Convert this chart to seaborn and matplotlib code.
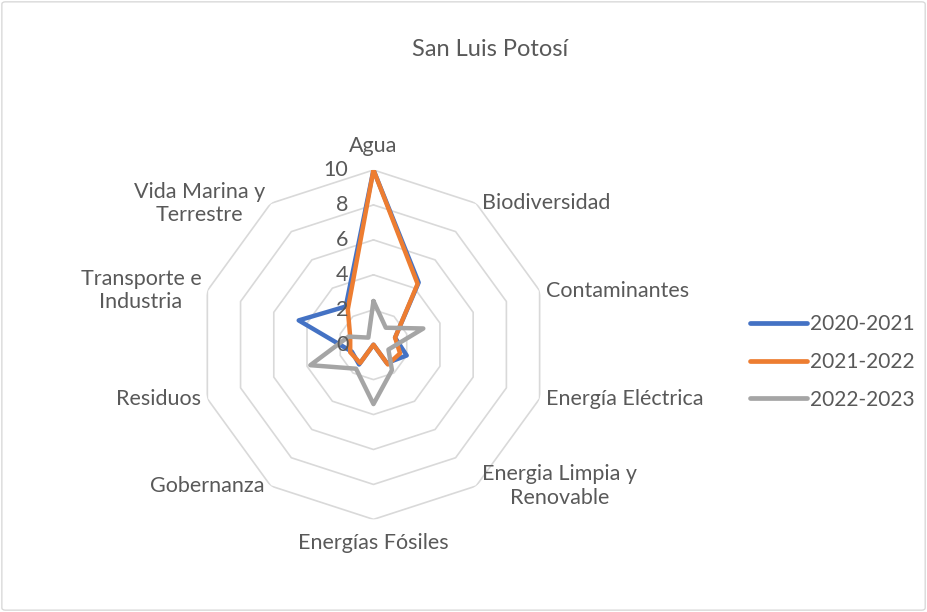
import numpy as np
import pandas as pd
import matplotlib
matplotlib.use("Agg")
import matplotlib.pyplot as plt
import seaborn as sns
from matplotlib.lines import Line2D
from matplotlib.patches import FancyBboxPatch

# datos
categories = [
    "Agua", "Biodiversidad", "Contaminantes", "Energía Eléctrica",
    "Energia Limpia y\nRenovable", "Energías Fósiles", "Gobernanza",
    "Residuos", "Transporte e\nIndustria", "Vida Marina y\nTerrestre",
]
series_names = ["2020-2021", "2021-2022", "2022-2023"]
vals_2020 = [10, 4.4, 1.3, 2.0, 1.3, 0, 1.4, 1.3, 4.5, 2.7]
vals_2021 = [10, 4.3, 1.3, 1.6, 1.4, 0, 1.3, 1.4, 1.4, 2.5]
vals_2022 = [2.5, 1.2, 3.0, 0.9, 1.8, 3.4, 1.7, 3.8, 1.5, 0.5]
ring_ticks = [0, 2, 4, 6, 8, 10]
colors = ["#4472C4", "#ED7D31", "#A5A5A5"]
text_color = "#595959"
grid_color = "#d9d9d9"

sns.set_theme(style="white")
plt.rcParams["font.family"] = ["Lato", "DejaVu Sans"]

n = len(categories)
theta = np.linspace(0, 2 * np.pi, n, endpoint=False)

# tabla larga, cada serie cerrada sobre su primer punto
rows = []
for name, vals in zip(series_names, [vals_2020, vals_2021, vals_2022]):
    for t, v in zip(list(theta) + [2 * np.pi], list(vals) + [vals[0]]):
        rows.append({"theta": t, "value": v, "serie": name})
df = pd.DataFrame(rows)

fig = plt.figure(figsize=(9.28, 6.12), dpi=100)
ax = fig.add_axes([0.2142, 0.1513, 0.3765, 0.571], projection="polar")
ax.set_theta_zero_location("N")
ax.set_theta_direction(-1)
ax.grid(False)
ax.spines["polar"].set_visible(False)
ax.set_facecolor("none")

# anillos poligonales
ring_theta = np.append(theta, theta[0])
for r in ring_ticks[1:]:
    ax.plot(ring_theta, [r] * len(ring_theta), color=grid_color, lw=1.2, zorder=1)

sns.lineplot(data=df, x="theta", y="value", hue="serie", palette=colors,
             sort=False, estimator=None, lw=3.2, legend=False, ax=ax,
             solid_joinstyle="round", solid_capstyle="round", zorder=3)

ax.set_ylim(0, 10)
ax.set_xticks([])
ax.set_yticks([])
ax.set_xlabel("")
ax.set_ylabel("")

lab_size = 15.5

for r in ring_ticks:
    ax.annotate(str(r), xy=(0, r), xytext=(-25, 0), textcoords="offset pixels",
                ha="right", va="center", color=text_color, fontsize=lab_size)

for t, lab in zip(theta, categories):
    s = np.sin(t)
    if abs(s) < 1e-6:
        up = np.cos(t) > 0
        ax.annotate(lab, xy=(t, 10), xytext=(0, 14 if up else -14),
                    textcoords="offset pixels", ha="center",
                    va="bottom" if up else "top", color=text_color, fontsize=lab_size)
    else:
        ax.annotate(lab, xy=(t, 10), xytext=(6 if s > 0 else -6, 0),
                    textcoords="offset pixels", ha="left" if s > 0 else "right",
                    va="center", multialignment="center",
                    color=text_color, fontsize=lab_size)

handles = [Line2D([0], [0], color=c, lw=3.4, solid_capstyle="round") for c in colors]
fig.legend(handles, series_names, loc="center left",
           bbox_to_anchor=(731 / 928, 1 - 362 / 612), frameon=False,
           handlelength=2.75, handletextpad=0.12, labelspacing=0.85,
           fontsize=15, labelcolor=text_color)

fig.text(490 / 928, 1 - 50 / 612, "San Luis Potosí", ha="center", va="center",
         fontsize=17, color=text_color)

fig.patches.append(FancyBboxPatch((0.002, 0.003), 0.995, 0.994,
                                  boxstyle="round,pad=0,rounding_size=0.004",
                                  transform=fig.transFigure, fill=False,
                                  edgecolor=grid_color, lw=1))

fig.savefig("out.png", dpi=100)
